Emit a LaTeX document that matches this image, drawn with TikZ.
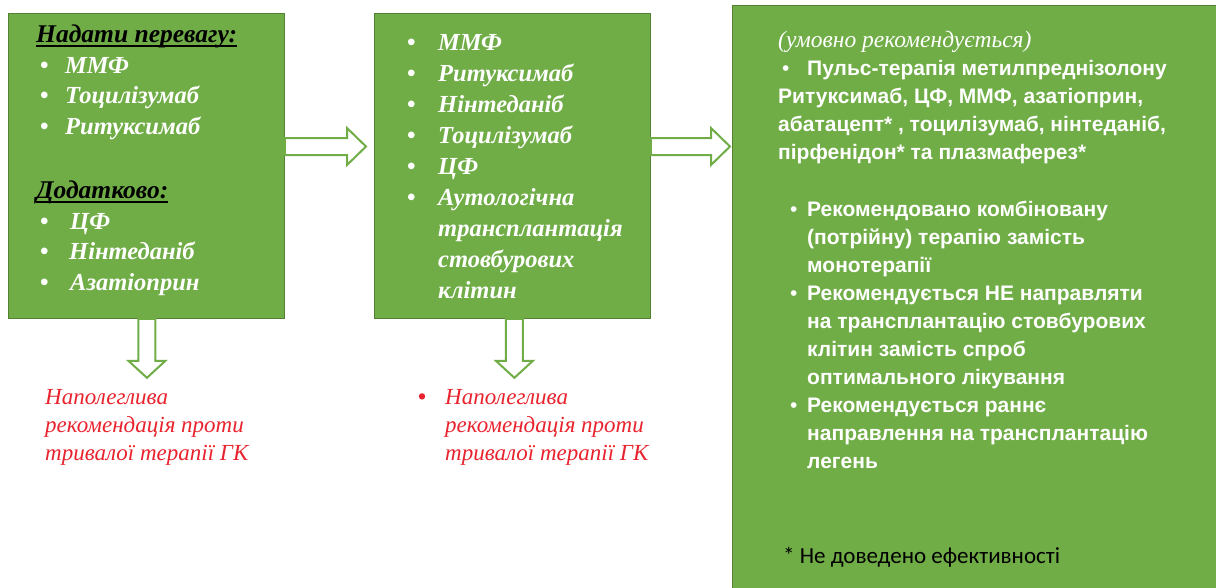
\documentclass[tikz,border=0pt]{standalone}
\usepackage{fontspec}
\setmainfont{Liberation Serif}
\setsansfont{Liberation Sans}
\newfontfamily\calibri{Carlito}
\usetikzlibrary{positioning, calc}

\definecolor{boxgreen}{RGB}{112,173,71}
\definecolor{boxedge}{RGB}{84,130,53}
\definecolor{notered}{RGB}{232,35,45}

\newcommand{\itm}[2][29pt]{\makebox[#1][l]{\hspace*{4pt}{\normalfont\sffamily\textbullet}}#2}
\newcommand{\uln}[1]{\setbox0\hbox{#1}\rlap{\rule[-4pt]{\wd0}{1.5pt}}\box0}

\begin{document}
\begin{tikzpicture}[
    x=1pt, y=-1pt,
    box/.style={rectangle, draw=boxedge, fill=boxgreen, line width=0.8pt, minimum width=276pt, minimum height=305pt, inner sep=0pt, anchor=north west},
    hollow/.style={draw=boxgreen, fill=white, line width=2pt, line join=miter},
    drugs/.style={font=\bfseries\itshape\fontsize{24.5}{30.5}\selectfont, text=white, align=left, inner sep=0pt, anchor=base west},
    advice/.style={font=\sffamily\bfseries\fontsize{21}{28}\selectfont, text=white, align=left, inner sep=0pt, anchor=base west},
    note/.style={font=\itshape\fontsize{23}{28}\selectfont, text=notered, align=left, inner sep=0pt, anchor=base west}
]
\useasboundingbox (0,0) rectangle (1216,587);

% three columns
\node[box] (pref) at (8,13) {};
\node[box] (second) at (374,13) {};
\node[box, minimum width=500pt, minimum height=600pt] (cond) at (732,5) {};

% texts are anchored at the baseline of their last line
\node[drugs] (preftxt) at ($(pref.north west)+(28,277)$) {%
  {\color{black}\fontsize{25.5}{30.5}\selectfont\uln{Надати перевагу:}}\\
  \itm{ММФ}\\
  \itm{Тоцилізумаб}\\
  \itm{Ритуксимаб}\\[34pt]
  {\color{black}\fontsize{25.5}{30.5}\selectfont\uln{Додатково:}}\\
  \itm[34pt]{ЦФ}\\
  \itm[33pt]{Нінтеданіб}\\
  \itm[34pt]{Азатіоприн}};

\node[drugs, font=\bfseries\itshape\fontsize{24.5}{31}\selectfont] (secondtxt) at ($(second.north west)+(29,285)$) {%
  \itm[35pt]{ММФ}\\
  \itm[35pt]{Ритуксимаб}\\
  \itm[35pt]{Нінтеданіб}\\
  \itm[35pt]{Тоцилізумаб}\\
  \itm[35pt]{ЦФ}\\
  \itm[35pt]{Аутологічна}\\
  \hspace*{35pt}трансплантація\\
  \hspace*{35pt}стовбурових\\
  \hspace*{35pt}клітин};

\node[advice] (condtxt) at ($(cond.north west)+(46,463)$) {%
  {\rmfamily\mdseries\itshape\fontsize{23.5}{28}\selectfont (умовно рекомендується)}\\
  \itm{Пульс-терапія метилпреднізолону}\\
  Ритуксимаб, ЦФ, ММФ, азатіоприн,\\
  абатацепт* , тоцилізумаб, нінтеданіб,\\
  пірфенідон* та плазмаферез*\\[29pt]
  \hspace*{8pt}\itm[21pt]{Рекомендовано комбіновану}\\
  \hspace*{29pt}(потрійну) терапію замість\\
  \hspace*{29pt}монотерапії\\
  \hspace*{8pt}\itm[21pt]{Рекомендується НЕ направляти}\\
  \hspace*{29pt}на трансплантацію стовбурових\\
  \hspace*{29pt}клітин замість спроб\\
  \hspace*{29pt}оптимального лікування\\
  \hspace*{8pt}\itm[21pt]{Рекомендується раннє}\\
  \hspace*{29pt}направлення на трансплантацію\\
  \hspace*{29pt}легень};

\node[inner sep=0pt, anchor=base west, font=\calibri\fontsize{23}{26}\selectfont] (footnote) at ($(cond.north west)+(51,558)$) {* Не доведено ефективності};

% red notes below the first two columns
\node[note] (note1) at ($(pref.south west)+(37,142)$) {%
  Наполеглива\\
  рекомендація проти\\
  тривалої терапії ГК};
\node[note] (note2) at ($(second.south west)+(40,142)$) {%
  \itm[31pt]{Наполеглива}\\
  \hspace*{31pt}рекомендація проти\\
  \hspace*{31pt}тривалої терапії ГК};

% hollow block arrows
\coordinate (t1) at ($(second.north west)+(-8,133.5)$);
\coordinate (t2) at ($(cond.north west)+(-2,141.5)$);
\coordinate (d1) at ($(pref.south)+(0.5,59)$);
\coordinate (d2) at ($(second.south)+(2,59)$);

\draw[hollow] ($(pref.east |- t1)+(0,-8.5)$) -- ($(t1)+(-19,-8.5)$) -- ($(t1)+(-19,-18.5)$) -- (t1)
  -- ($(t1)+(-19,18.5)$) -- ($(t1)+(-19,8.5)$) -- ($(pref.east |- t1)+(0,8.5)$) -- cycle;
\draw[hollow] ($(second.east |- t2)+(0,-8.5)$) -- ($(t2)+(-19,-8.5)$) -- ($(t2)+(-19,-18.5)$) -- (t2)
  -- ($(t2)+(-19,18.5)$) -- ($(t2)+(-19,8.5)$) -- ($(second.east |- t2)+(0,8.5)$) -- cycle;
\draw[hollow] ($(pref.south -| d1)+(-8.5,0)$) -- ($(d1)+(-8.5,-17)$) -- ($(d1)+(-18.5,-17)$) -- (d1)
  -- ($(d1)+(18.5,-17)$) -- ($(d1)+(8.5,-17)$) -- ($(pref.south -| d1)+(8.5,0)$) -- cycle;
\draw[hollow] ($(second.south -| d2)+(-8.5,0)$) -- ($(d2)+(-8.5,-17)$) -- ($(d2)+(-18.5,-17)$) -- (d2)
  -- ($(d2)+(18.5,-17)$) -- ($(d2)+(8.5,-17)$) -- ($(second.south -| d2)+(8.5,0)$) -- cycle;

\end{tikzpicture}
\end{document}
